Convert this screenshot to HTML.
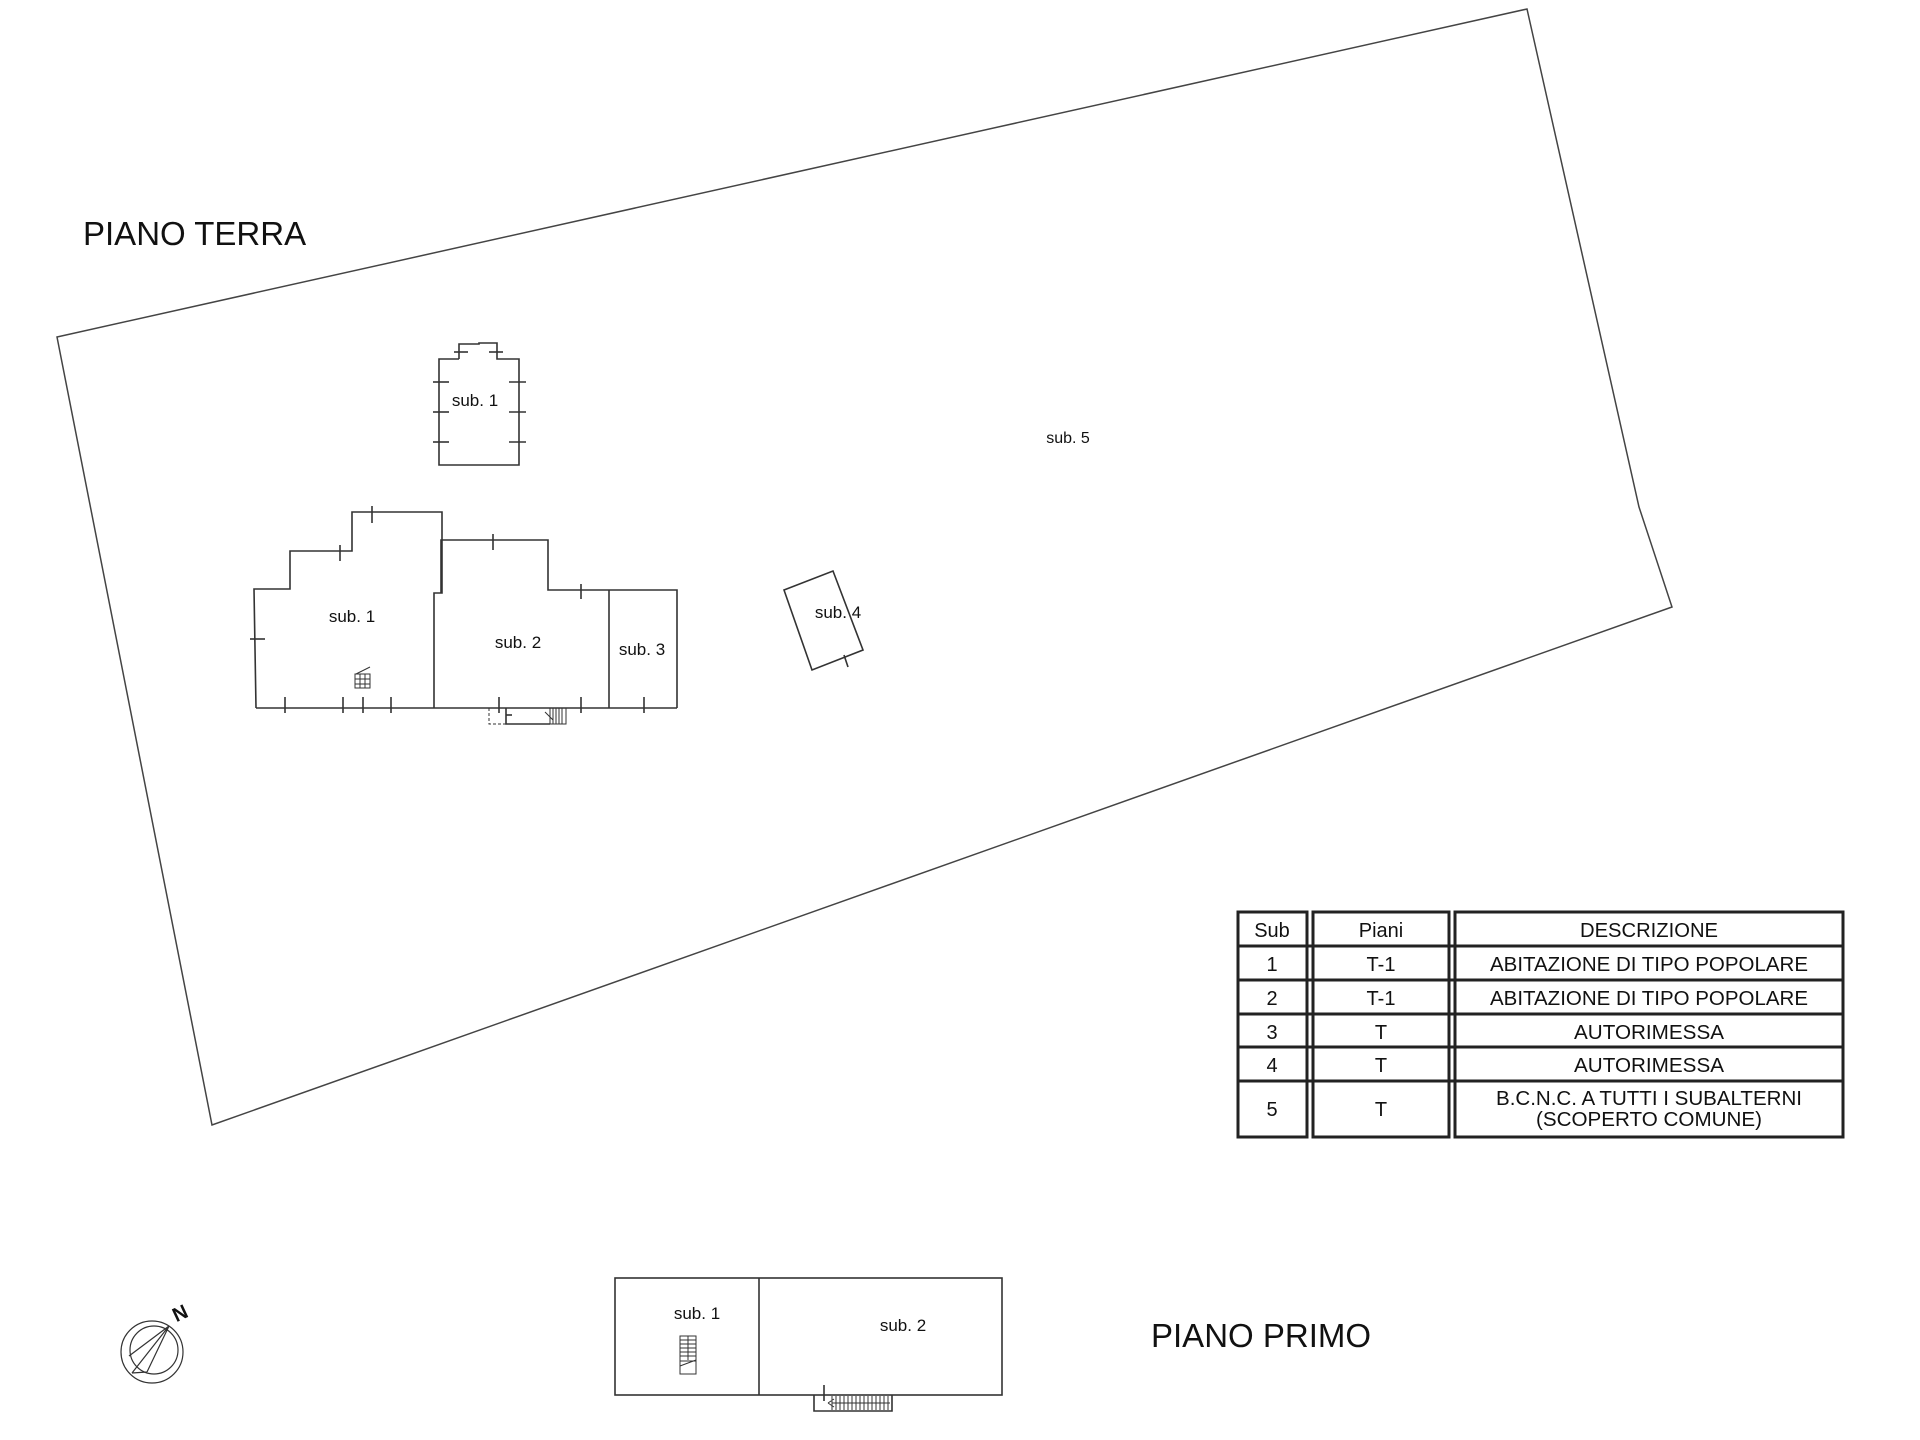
<!DOCTYPE html>
<html><head><meta charset="utf-8"><style>
html,body{margin:0;padding:0;background:#fff;}
svg{display:block;}
text{font-family:"Liberation Sans",sans-serif;fill:#111;}
</style></head><body>
<svg width="1920" height="1440" viewBox="0 0 1920 1440" xmlns="http://www.w3.org/2000/svg">
<g fill="none" stroke="#444" stroke-width="1.5">
<polygon points="57,337 1527,9 1639,507 1672,607 212,1125"/>
</g>
<text x="83" y="245" font-size="33">PIANO TERRA</text>
<text x="1068" y="443" font-size="16" text-anchor="middle">sub. 5</text>

<g fill="none" stroke="#333" stroke-width="1.6">
<polyline points="459,359 439,359 439,465 519,465 519,359 497,359 497,343 479,343 479,344 459,344 459,359"/>
<line x1="433" y1="382" x2="449" y2="382"/><line x1="433" y1="412" x2="449" y2="412"/><line x1="433" y1="442" x2="449" y2="442"/>
<line x1="509" y1="382" x2="526" y2="382"/><line x1="509" y1="412" x2="526" y2="412"/><line x1="509" y1="442" x2="526" y2="442"/>
<line x1="454" y1="352" x2="468" y2="352"/><line x1="489" y1="352" x2="503" y2="352"/>

<polyline points="256,708 254,589 290,589 290,551 352,551 352,512 442,512 442,593 434,593 434,708"/>
<line x1="256" y1="708" x2="677" y2="708"/>
<polyline points="441,593 441,540 548,540 548,590 677,590 677,708"/>
<line x1="609" y1="590" x2="609" y2="708"/>
<line x1="250" y1="639" x2="265" y2="639"/>
<line x1="340" y1="545" x2="340" y2="561"/>
<line x1="372" y1="506" x2="372" y2="523"/>
<line x1="493" y1="534" x2="493" y2="550"/>
<line x1="581" y1="584" x2="581" y2="599"/>
<line x1="285" y1="697" x2="285" y2="713"/><line x1="343" y1="697" x2="343" y2="713"/><line x1="363" y1="697" x2="363" y2="713"/><line x1="391" y1="697" x2="391" y2="713"/>
<line x1="499" y1="697" x2="499" y2="713"/><line x1="581" y1="697" x2="581" y2="713"/><line x1="644" y1="697" x2="644" y2="713"/>
<polyline points="489,708 489,724 506,724" stroke-dasharray="3,2" stroke-width="1"/>
<polyline points="506,708 506,724 550,724"/>
<line x1="506" y1="715" x2="512" y2="715"/>
<rect x="550" y="708" width="16" height="16" stroke-width="1"/>
<path d="M553,708v16M556,708v16M559,708v16M562,708v16M545,712l8,8" stroke-width="1"/>
<rect x="355" y="674" width="15" height="14" stroke-width="1"/>
<path d="M355,679h15M355,684h15M360,674v14M365,674v14M356,674l14,-7" stroke-width="1"/>

<polygon points="784,590 833,571 863,650 812,670"/>
<line x1="844" y1="655" x2="848" y2="667"/>
</g>
<text x="352" y="622" font-size="17" text-anchor="middle">sub. 1</text>
<text x="475" y="406" font-size="17" text-anchor="middle">sub. 1</text>
<text x="518" y="648" font-size="17" text-anchor="middle">sub. 2</text>
<text x="642" y="655" font-size="17" text-anchor="middle">sub. 3</text>
<text x="838" y="618" font-size="17" text-anchor="middle">sub. 4</text>

<g fill="none" stroke="#222" stroke-width="3">
<rect x="1238" y="912" width="69" height="225"/>
<rect x="1313" y="912" width="136" height="225"/>
<rect x="1455" y="912" width="388" height="225"/>
<path d="M1238,946H1843M1238,980H1843M1238,1014H1843M1238,1047H1843M1238,1081H1843"/>
</g>
<g font-size="20" fill="#333" text-anchor="middle">
<text x="1272" y="937">Sub</text><text x="1381" y="937">Piani</text><text x="1649" y="937" textLength="138" lengthAdjust="spacingAndGlyphs">DESCRIZIONE</text>
<text x="1272" y="971">1</text><text x="1381" y="971">T-1</text><text x="1649" y="971" textLength="318" lengthAdjust="spacingAndGlyphs">ABITAZIONE DI TIPO POPOLARE</text>
<text x="1272" y="1005">2</text><text x="1381" y="1005">T-1</text><text x="1649" y="1005" textLength="318" lengthAdjust="spacingAndGlyphs">ABITAZIONE DI TIPO POPOLARE</text>
<text x="1272" y="1039">3</text><text x="1381" y="1039">T</text><text x="1649" y="1039" textLength="150" lengthAdjust="spacingAndGlyphs">AUTORIMESSA</text>
<text x="1272" y="1072">4</text><text x="1381" y="1072">T</text><text x="1649" y="1072" textLength="150" lengthAdjust="spacingAndGlyphs">AUTORIMESSA</text>
<text x="1272" y="1116">5</text><text x="1381" y="1116">T</text>
<text x="1649" y="1105" textLength="306" lengthAdjust="spacingAndGlyphs">B.C.N.C. A TUTTI I SUBALTERNI</text>
<text x="1649" y="1126" textLength="226" lengthAdjust="spacingAndGlyphs">(SCOPERTO COMUNE)</text>
</g>

<g fill="none" stroke="#333" stroke-width="1.2">
<ellipse cx="152" cy="1352" rx="31" ry="31"/>
<circle cx="154" cy="1350" r="24"/>
<path d="M169,1326L129,1356M169,1326L132,1373M169,1326L147,1372M132,1373L147,1372"/>
</g>
<text x="180" y="1320" font-size="20" font-weight="bold" text-anchor="middle" transform="rotate(-25 180 1313)">N</text>

<g fill="none" stroke="#333" stroke-width="1.6">
<rect x="615" y="1278" width="387" height="117"/>
<line x1="759" y1="1278" x2="759" y2="1395"/>
<rect x="680" y="1336" width="16" height="38" stroke-width="1"/>
<path d="M680,1340h16M680,1344h16M680,1348h16M680,1352h16M680,1356h16M680,1361h16M688,1336v24M680,1366l16,-6" stroke-width="1"/>
<polyline points="814,1395 814,1411 892,1411 892,1395"/>
<line x1="824" y1="1385" x2="824" y2="1401"/>
<path d="M832,1396v14M836,1396v14M840,1396v14M844,1396v14M848,1396v14M852,1396v14M856,1396v14M860,1396v14M864,1396v14M868,1396v14M872,1396v14M876,1396v14M880,1396v14M884,1396v14M888,1396v14M832,1403h58M828,1403l6,-4M828,1403l6,4" stroke-width="1"/>
</g>
<text x="697" y="1319" font-size="17" text-anchor="middle">sub. 1</text>
<text x="903" y="1331" font-size="17" text-anchor="middle">sub. 2</text>
<text x="1151" y="1347" font-size="33">PIANO PRIMO</text>
</svg>
</body></html>
